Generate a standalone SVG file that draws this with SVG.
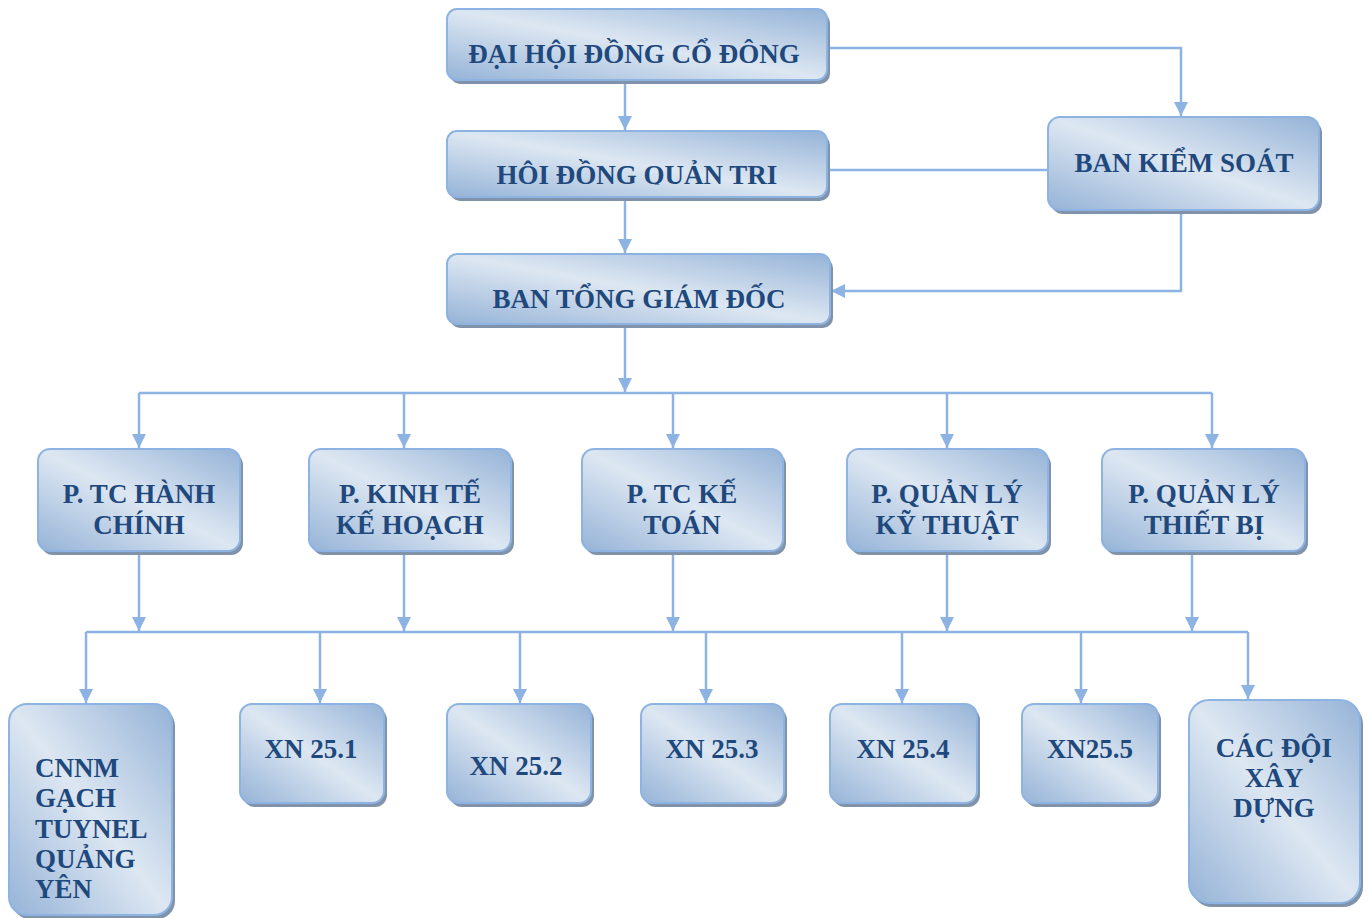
<svg xmlns="http://www.w3.org/2000/svg" width="1367" height="918" viewBox="0 0 1367 918">
<style>
.sh{fill:#8093ab}
.bx{fill:url(#g);stroke:#8db3e2;stroke-width:2}
.t{font-family:"Liberation Serif","Times New Roman",serif;font-weight:bold;font-size:27px;fill:#1f497d;text-anchor:middle}
.tl{text-anchor:start}
.c{fill:none;stroke:#8db3e2;stroke-width:2.5}
.a{marker-end:url(#ah)}
</style>
<defs>
<linearGradient id="g" x1="0" y1="1" x2="1" y2="0">
<stop offset="0" stop-color="#95b3d7"/>
<stop offset="0.5" stop-color="#dde7f2"/>
<stop offset="1" stop-color="#95b3d7"/>
</linearGradient>
<marker id="ah" viewBox="0 0 14 14" refX="14" refY="7" markerWidth="14" markerHeight="14" markerUnits="userSpaceOnUse" orient="auto">
<path d="M0,0 L14,7 L0,14 z" fill="#8db3e2"/>
</marker>
<clipPath id="clipH"><rect x="447" y="131" width="380" height="53.5"/></clipPath>
</defs>

<g id="connectors">
<path class="c a" d="M827,48 H1181 V116"/>
<path class="c a" d="M625,80 V130"/>
<path class="c" d="M827,170 H1048"/>
<path class="c a" d="M625,197 V253"/>
<path class="c a" d="M1181,210 V291 H831"/>
<path class="c a" d="M625,324 V392"/>
<path class="c" d="M139,393 H1212"/>
<path class="c a" d="M139,393 V448"/>
<path class="c a" d="M404,393 V448"/>
<path class="c a" d="M673,393 V448"/>
<path class="c a" d="M947,393 V448"/>
<path class="c a" d="M1212,393 V448"/>
<path class="c a" d="M139,551 V631"/>
<path class="c a" d="M404,551 V631"/>
<path class="c a" d="M673,551 V631"/>
<path class="c a" d="M947,551 V631"/>
<path class="c a" d="M1192,551 V631"/>
<path class="c" d="M86,632 H1248"/>
<path class="c a" d="M86,632 V703"/>
<path class="c a" d="M320,632 V703"/>
<path class="c a" d="M520,632 V703"/>
<path class="c a" d="M706,632 V703"/>
<path class="c a" d="M902,632 V703"/>
<path class="c a" d="M1081,632 V703"/>
<path class="c a" d="M1248,632 V699"/>
</g>

<g id="dhdcd">
<rect class="sh" x="450" y="13" width="380" height="71" rx="10"/>
<rect class="bx" x="447" y="9" width="380" height="71" rx="10"/>
<text class="t" x="634" y="63" font-size="27.5">ĐẠI HỘI ĐỒNG CỔ ĐÔNG</text>
</g>

<g id="hdqt">
<rect class="sh" x="450" y="135" width="380" height="66" rx="10"/>
<rect class="bx" x="447" y="131" width="380" height="66" rx="10"/>
<text class="t" x="637" y="184" font-size="27.5" clip-path="url(#clipH)">HỘI ĐỒNG QUẢN TRỊ</text>
</g>

<g id="btgd">
<rect class="sh" x="450" y="258" width="383" height="70" rx="10"/>
<rect class="bx" x="447" y="254" width="383" height="70" rx="10"/>
<text class="t" x="639" y="308" font-size="27.5">BAN TỔNG GIÁM ĐỐC</text>
</g>

<g id="bks">
<rect class="sh" x="1051" y="121" width="271" height="93" rx="12"/>
<rect class="bx" x="1048" y="117" width="271" height="93" rx="12"/>
<text class="t" x="1184" y="172">BAN KIỂM SOÁT</text>
</g>

<g id="p-tchc">
<rect class="sh" x="41" y="453" width="202" height="102" rx="12"/>
<rect class="bx" x="38" y="449" width="202" height="102" rx="12"/>
<text class="t" x="139" y="503">P. TC HÀNH</text>
<text class="t" x="139" y="534">CHÍNH</text>
</g>

<g id="p-ktkh">
<rect class="sh" x="312" y="453" width="202" height="102" rx="12"/>
<rect class="bx" x="309" y="449" width="202" height="102" rx="12"/>
<text class="t" x="410" y="503">P. KINH TẾ</text>
<text class="t" x="410" y="534">KẾ HOẠCH</text>
</g>

<g id="p-tckt">
<rect class="sh" x="585" y="453" width="201" height="102" rx="12"/>
<rect class="bx" x="582" y="449" width="201" height="102" rx="12"/>
<text class="t" x="682" y="503">P. TC KẾ</text>
<text class="t" x="682" y="534">TOÁN</text>
</g>

<g id="p-qlkt">
<rect class="sh" x="850" y="453" width="201" height="102" rx="12"/>
<rect class="bx" x="847" y="449" width="201" height="102" rx="12"/>
<text class="t" x="947" y="503">P. QUẢN LÝ</text>
<text class="t" x="947" y="534">KỸ THUẬT</text>
</g>

<g id="p-qltb">
<rect class="sh" x="1105" y="453" width="203" height="102" rx="12"/>
<rect class="bx" x="1102" y="449" width="203" height="102" rx="12"/>
<text class="t" x="1204" y="503">P. QUẢN LÝ</text>
<text class="t" x="1204" y="534">THIẾT BỊ</text>
</g>

<g id="cnnm">
<rect class="sh" x="12" y="708" width="163" height="211" rx="18"/>
<rect class="bx" x="9" y="704" width="163" height="211" rx="18"/>
<text class="t tl" x="35" y="777">CNNM</text>
<text class="t tl" x="35" y="807">GẠCH</text>
<text class="t tl" x="35" y="838">TUYNEL</text>
<text class="t tl" x="35" y="868">QUẢNG</text>
<text class="t tl" x="35" y="898">YÊN</text>
</g>

<g id="xn251">
<rect class="sh" x="243" y="708" width="144" height="99" rx="12"/>
<rect class="bx" x="240" y="704" width="144" height="99" rx="12"/>
<text class="t" x="311" y="758">XN 25.1</text>
</g>

<g id="xn252">
<rect class="sh" x="450" y="708" width="144" height="99" rx="12"/>
<rect class="bx" x="447" y="704" width="144" height="99" rx="12"/>
<text class="t" x="516" y="775">XN 25.2</text>
</g>

<g id="xn253">
<rect class="sh" x="644" y="708" width="143" height="99" rx="12"/>
<rect class="bx" x="641" y="704" width="143" height="99" rx="12"/>
<text class="t" x="712" y="758">XN 25.3</text>
</g>

<g id="xn254">
<rect class="sh" x="833" y="708" width="147" height="99" rx="12"/>
<rect class="bx" x="830" y="704" width="147" height="99" rx="12"/>
<text class="t" x="903" y="758">XN 25.4</text>
</g>

<g id="xn255">
<rect class="sh" x="1025" y="708" width="136" height="99" rx="12"/>
<rect class="bx" x="1022" y="704" width="136" height="99" rx="12"/>
<text class="t" x="1090" y="758">XN25.5</text>
</g>

<g id="cac-doi">
<rect class="sh" x="1192" y="704" width="171" height="203" rx="20"/>
<rect class="bx" x="1189" y="700" width="171" height="203" rx="20"/>
<text class="t" x="1274" y="757">CÁC ĐỘI</text>
<text class="t" x="1274" y="787">XÂY</text>
<text class="t" x="1274" y="817">DỰNG</text>
</g>
</svg>
